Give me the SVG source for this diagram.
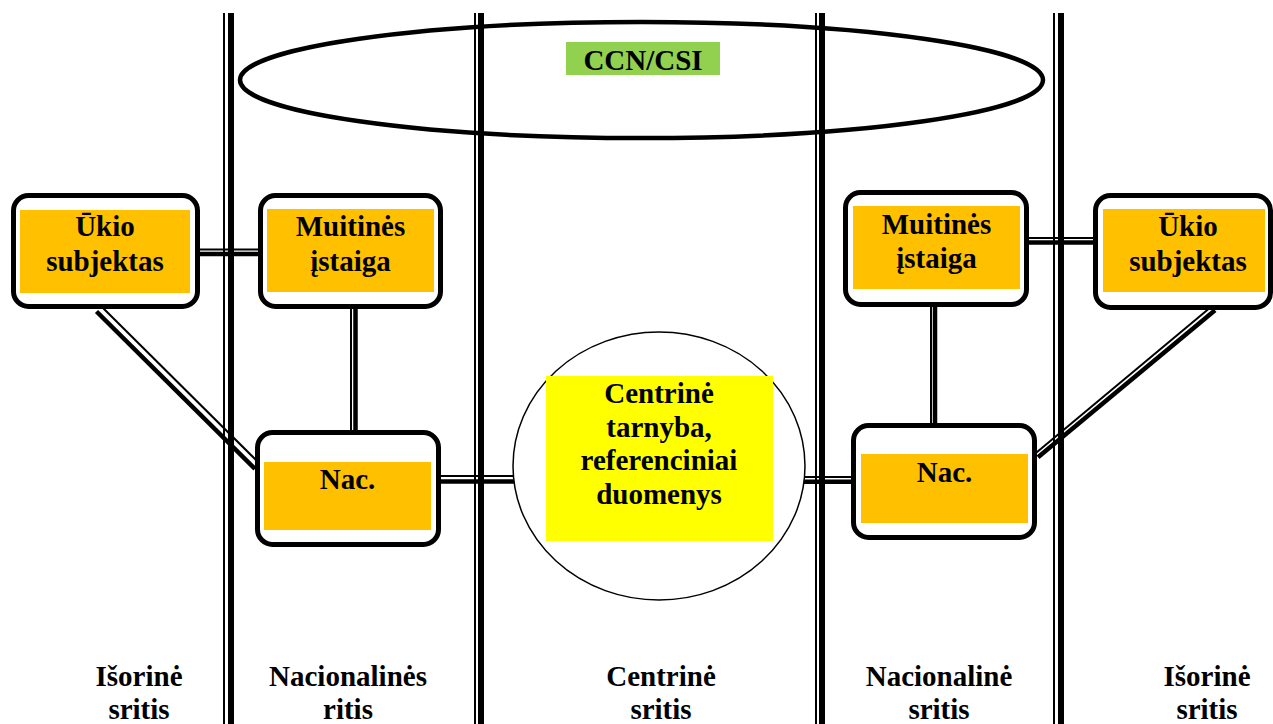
<svg xmlns="http://www.w3.org/2000/svg" width="1273" height="724" viewBox="0 0 1273 724">
<style>
.t{font-family:"Liberation Serif","Times New Roman",serif;font-weight:bold;font-size:29px;fill:#000;text-anchor:middle}
.thin{stroke:#000;stroke-width:2;fill:none}
.thick{stroke:#000;stroke-width:6;fill:none}
.cthick{stroke:#000;stroke-width:4.5;fill:none}
.box{fill:#fff;stroke:#000;stroke-width:5}
.org{fill:#FFC000}
</style>
<rect width="1273" height="724" fill="#fff"/>
<g id="dividers">
<line class="thin" x1="224" y1="13" x2="224" y2="724"/><line class="thick" x1="231" y1="13" x2="231" y2="724"/>
<line class="thin" x1="475" y1="13" x2="475" y2="724"/><line class="thick" x1="481" y1="13" x2="481" y2="724"/>
<line class="thin" x1="816" y1="13" x2="816" y2="724"/><line class="thick" x1="822" y1="13" x2="822" y2="724"/>
<line class="thin" x1="1054" y1="13" x2="1054" y2="724"/><line class="thick" x1="1061" y1="13" x2="1061" y2="724"/>
</g>
<g id="ccn">
<ellipse cx="641.5" cy="80" rx="401.5" ry="58" fill="none" stroke="#000" stroke-width="4.5"/>
<rect x="566" y="42" width="154" height="33" fill="#92D050"/>
<text class="t" x="643" y="70">CCN/CSI</text>
</g>
<g id="connectors">
<line class="thin" x1="200" y1="249.5" x2="258" y2="249.5"/><line class="cthick" x1="200" y1="254" x2="258" y2="254"/>
<line class="thin" x1="351" y1="309" x2="351" y2="430"/><line class="cthick" x1="355.5" y1="309" x2="355.5" y2="430"/>
<line class="thin" x1="441" y1="476" x2="514" y2="476"/><line class="cthick" x1="441" y1="481.5" x2="514" y2="481.5"/>
<line class="thin" x1="804" y1="477" x2="851" y2="477"/><line class="cthick" x1="804" y1="481.8" x2="851" y2="481.8"/>
<line class="thin" x1="931" y1="307" x2="931" y2="423"/><line class="cthick" x1="935" y1="307" x2="935" y2="423"/>
<line class="thin" x1="1029" y1="238" x2="1093" y2="238"/><line class="cthick" x1="1029" y1="242.5" x2="1093" y2="242.5"/>
<line class="thin" x1="102.5" y1="307.5" x2="258.5" y2="462.5"/><line class="cthick" x1="96.5" y1="311.5" x2="255" y2="469"/>
<line class="thin" x1="1035" y1="453.7" x2="1210" y2="307.7"/><line class="cthick" x1="1038" y1="457.2" x2="1215" y2="310.2"/>
</g>
<g id="ukio-left">
<rect class="box" x="13.5" y="195.5" width="184" height="111" rx="15"/>
<rect class="org" x="20" y="210" width="170" height="83"/>
<text class="t" x="105" y="236">Ūkio</text><text class="t" x="105" y="271">subjektas</text>
</g>
<g id="muitines-left">
<rect class="box" x="260.5" y="195.5" width="180" height="111" rx="15"/>
<rect class="org" x="267" y="209" width="167" height="83"/>
<text class="t" x="350.5" y="236">Muitinės</text><text class="t" x="350.5" y="271">įstaiga</text>
</g>
<g id="nac-left">
<rect class="box" x="257.5" y="432.5" width="181" height="112" rx="15"/>
<rect class="org" x="264" y="462" width="167" height="68"/>
<text class="t" x="347.5" y="489">Nac.</text>
</g>
<g id="centrine">
<ellipse cx="659" cy="466" rx="146" ry="134" fill="#fff" stroke="#000" stroke-width="1.5"/>
<rect x="546" y="376" width="227" height="165" fill="#FFFF00"/>
<text class="t" x="659" y="403">Centrinė</text>
<text class="t" x="659" y="437">tarnyba,</text>
<text class="t" x="659" y="470">referenciniai</text>
<text class="t" x="659" y="504">duomenys</text>
</g>
<g id="muitines-right">
<rect class="box" x="845.5" y="192.5" width="181" height="112" rx="15"/>
<rect class="org" x="853" y="206" width="167" height="83"/>
<text class="t" x="936.5" y="234">Muitinės</text><text class="t" x="936.5" y="268">įstaiga</text>
</g>
<g id="ukio-right">
<rect class="box" x="1095.5" y="195.5" width="175" height="112" rx="15"/>
<rect class="org" x="1103" y="209" width="162" height="83"/>
<text class="t" x="1188" y="236">Ūkio</text><text class="t" x="1188" y="271">subjektas</text>
</g>
<g id="nac-right">
<rect class="box" x="853.5" y="425.5" width="181" height="112" rx="15"/>
<rect class="org" x="861" y="454" width="167" height="69"/>
<text class="t" x="944.5" y="482">Nac.</text>
</g>
<g id="labels">
<text class="t" x="139" y="686">Išorinė</text><text class="t" x="139" y="719">sritis</text>
<text class="t" x="348" y="686">Nacionalinės</text><text class="t" x="348" y="719">ritis</text>
<text class="t" x="661" y="686">Centrinė</text><text class="t" x="661" y="719">sritis</text>
<text class="t" x="939" y="686">Nacionalinė</text><text class="t" x="939" y="719">sritis</text>
<text class="t" x="1207" y="686">Išorinė</text><text class="t" x="1207" y="719">sritis</text>
</g>
</svg>
